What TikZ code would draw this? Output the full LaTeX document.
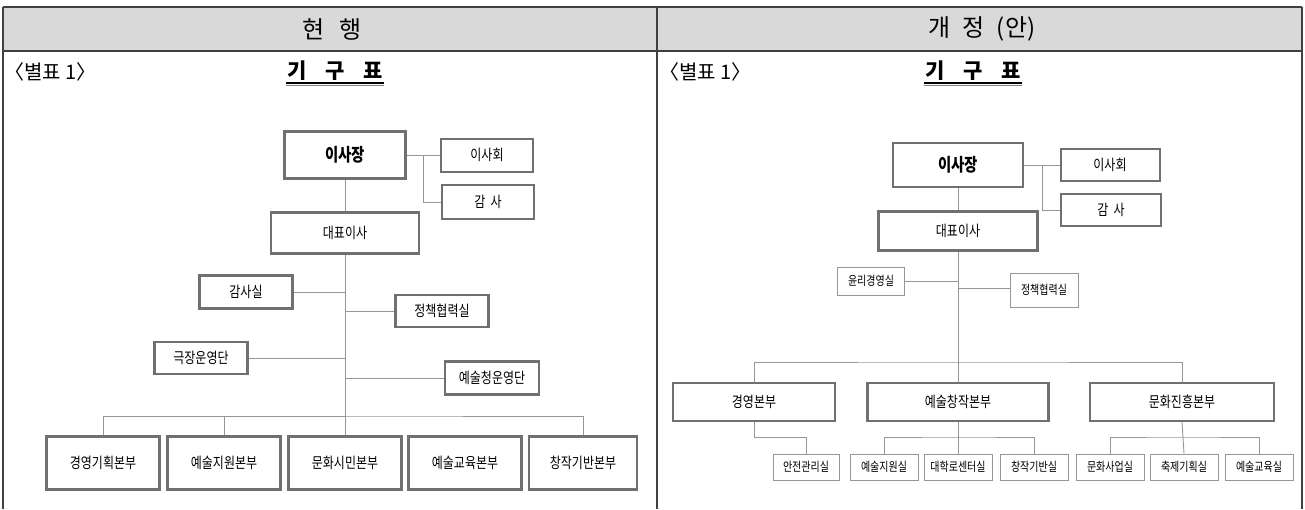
\documentclass[tikz,border=0pt]{standalone}
\usepackage{fontspec}
\setmainfont{Noto Sans CJK KR}
\newfontfamily\boxfont[FakeStretch=0.8]{Noto Sans CJK KR}
\usetikzlibrary{positioning}

\definecolor{headgray}{RGB}{217,217,217}
\definecolor{boxgray}{RGB}{112,112,112}
\definecolor{linegray}{RGB}{150,150,150}

\tikzset{
  bigbox/.style={draw=boxgray, line width=2.4pt, fill=white, inner sep=0pt,
    font=\boxfont\fontsize{15}{17}\selectfont},
  topbox/.style={bigbox, font=\boxfont\bfseries\fontsize{18}{20}\selectfont},
  thinbox/.style={draw=linegray, line width=0.8pt, fill=white, inner sep=0pt,
    font=\boxfont\fontsize{12.5}{14}\selectfont},
  link/.style={draw=linegray, line width=0.9pt},
  rule/.style={draw=black!75, line width=1.2pt},
  headtext/.style={font=\fontsize{24}{26}\selectfont},
  tagtext/.style={anchor=west, inner sep=0pt, font=\fontsize{20}{22}\selectfont},
  titletext/.style={inner sep=1pt, font=\bfseries\fontsize{21}{23}\selectfont},
}

\begin{document}
\begin{tikzpicture}[x=1pt, y=-1pt]
\useasboundingbox (0,0) rectangle (1305,509);

% table frame
\fill[headgray] (3,7) rectangle (1302,51);
\draw[rule] (3,7) -- (1302,7);
\draw[rule] (3,51) -- (1302,51);
\draw[rule] (3,7) -- (3,509);
\draw[rule] (657,7) -- (657,509);
\draw[rule] (1302,7) -- (1302,509);

\node[headtext] (headL) at (332,29) {현\hspace{0.6em}행};
\node[headtext] (headR) at (982,29) {개\hspace{0.5em}정\hspace{0.5em}(안)};

\node[tagtext] (tagL) at (4,72) {〈별표 1〉};
\node[tagtext] (tagR) at (659,72) {〈별표 1〉};
\node[titletext] (titleL) at (335,71) {기\hspace{0.9em}구\hspace{0.9em}표};
\node[titletext] (titleR) at (973,71) {기\hspace{0.9em}구\hspace{0.9em}표};
\foreach \t in {titleL,titleR}{
  \draw[line width=1.4pt] ([yshift=-1pt]\t.south west) -- ([yshift=-1pt]\t.south east);
  \draw[line width=1pt, gray] ([yshift=-3.2pt]\t.south west) -- ([yshift=-3.2pt]\t.south east);
}

%________________________________________________%
% present chart
\node[topbox, minimum width=121, minimum height=47] (chairL) at (345,155) {이사장};
\node[bigbox, minimum width=92, minimum height=33, line width=2pt] (boardL) at (487,155) {이사회};
\node[bigbox, minimum width=92, minimum height=34, line width=2pt] (auditL) at (488,202) {감\ \ 사};
\node[bigbox, minimum width=148, minimum height=41] (ceoL) at (345,233) {대표이사};
\node[bigbox, minimum width=93, minimum height=33] (auditoffL) at (246,292) {감사실};
\node[bigbox, minimum width=93, minimum height=32] (policyL) at (442,311) {정책협력실};
\node[bigbox, minimum width=93, minimum height=32] (theatreL) at (201,358) {극장운영단};
\node[bigbox, minimum width=94, minimum height=33] (hallL) at (492,378) {예술청운영단};

\node[bigbox, minimum width=113, minimum height=53] (mgmtL) at (103,463) {경영기획본부};
\node[bigbox, minimum width=113, minimum height=53] (supportL) at (224,463) {예술지원본부};
\node[bigbox, minimum width=113, minimum height=53] (citizenL) at (345,463) {문화시민본부};
\node[bigbox, minimum width=113, minimum height=53] (eduL) at (465,463) {예술교육본부};
\node[bigbox, minimum width=108, minimum height=53] (createL) at (583,463) {창작기반본부};

\coordinate (brL) at (423,155);
\coordinate (busL) at (345,416);

\draw[link] (chairL.east) -- (boardL.west);
\draw[link] (brL) |- (auditL.west);
\draw[link] (chairL.south) -- (ceoL.north);
\draw[link] (ceoL.south) -- (citizenL.north);
\draw[link] (auditoffL.east) -- (auditoffL.east -| ceoL.south);
\draw[link] (policyL.west) -- (policyL.west -| ceoL.south);
\draw[link] (theatreL.east) -- (theatreL.east -| ceoL.south);
\draw[link] (hallL.west) -- (hallL.west -| ceoL.south);
\draw[link] (mgmtL.north) |- (busL) -| (createL.north);
\draw[link] (supportL.north) |- (busL);

%________________________________________________%
% revised chart
\node[topbox, minimum width=130, minimum height=44] (chairR) at (958,165) {이사장};
\node[bigbox, minimum width=99, minimum height=32, line width=2pt] (boardR) at (1110,165) {이사회};
\node[bigbox, minimum width=100, minimum height=32, line width=2pt] (auditR) at (1111,210) {감\ \ 사};
\node[bigbox, minimum width=159, minimum height=39] (ceoR) at (958,231) {대표이사};
\node[thinbox, minimum width=67, minimum height=28] (ethicsR) at (871,281) {윤리경영실};
\node[thinbox, minimum width=68, minimum height=34] (policyR) at (1044,290) {정책협력실};

\node[bigbox, minimum width=162, minimum height=38] (mgmtR) at (754,402) {경영본부};
\node[bigbox, minimum width=181, minimum height=38] (artR) at (958,402) {예술창작본부};
\node[bigbox, minimum width=184, minimum height=38] (cultR) at (1182,402) {문화진흥본부};

\node[thinbox, minimum width=66, minimum height=26] (safetyR) at (806,467) {안전관리실};
\node[thinbox, minimum width=68, minimum height=26] (supportR) at (884,467) {예술지원실};
\node[thinbox, minimum width=68, minimum height=26] (centerR) at (958,467) {대학로센터실};
\node[thinbox, minimum width=68, minimum height=26] (baseR) at (1034,467) {창작기반실};
\node[thinbox, minimum width=68, minimum height=26] (bizR) at (1110,467) {문화사업실};
\node[thinbox, minimum width=68, minimum height=26] (festR) at (1184,467) {축제기획실};
\node[thinbox, minimum width=68, minimum height=26] (eduR) at (1259,467) {예술교육실};

\coordinate (brR) at (1042,165);
\coordinate (busR) at (958,362);
\coordinate (subR) at (754,437);
\coordinate (artbusR) at (958,437);
\coordinate (cultbusR) at (1182,437);

\draw[link] (chairR.east) -- (boardR.west);
\draw[link] (brR) |- (auditR.west);
\draw[link] (chairR.south) -- (ceoR.north);
\draw[link] (ceoR.south) -- (artR.north);
\draw[link] (ethicsR.east) -- (ethicsR.east -| ceoR.south);
\draw[link] ([yshift=2pt]policyR.west) -- ([yshift=2pt]policyR.west -| ceoR.south);
\draw[link] (mgmtR.north) |- (busR) -| (cultR.north);
\draw[link] (mgmtR.south) |- (subR) -| (safetyR.north);
\draw[link] (artR.south) -- (centerR.north);
\draw[link] (supportR.north) |- (artbusR) -| (baseR.north);
\draw[link] (cultR.south) -- (festR.north);
\draw[link] (bizR.north) |- (cultbusR) -| (eduR.north);
%________________________________________________%
\end{tikzpicture}
\end{document}
